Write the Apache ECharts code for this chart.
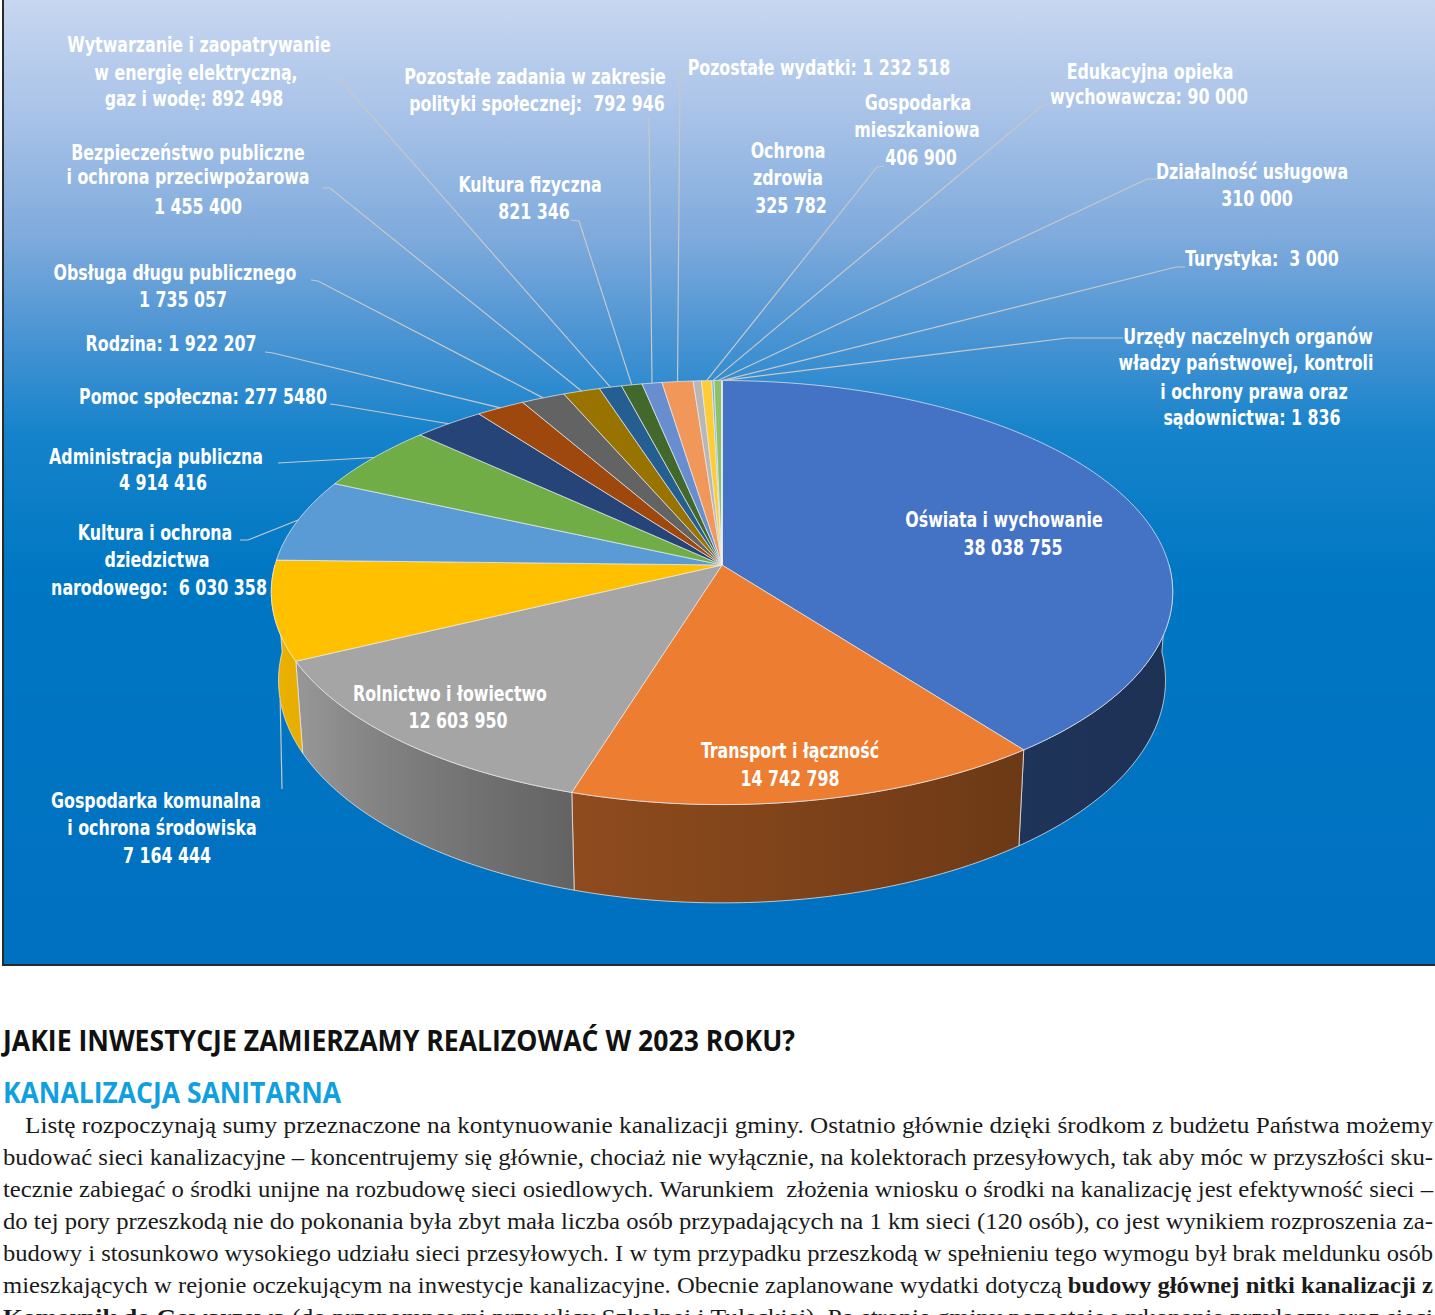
<!DOCTYPE html>
<html><head><meta charset="utf-8">
<script src="https://cdn.jsdelivr.net/npm/echarts@6/dist/echarts.min.js"></script>
<style>
html,body{margin:0;padding:0;width:1435px;height:1315px;overflow:hidden;background:#fff;}
#chart{position:absolute;left:0;top:0;width:1435px;height:970px;}
.ln{position:absolute;white-space:nowrap;transform-origin:0 0;}
.h{font-family:"Open Sans","Noto Sans",sans-serif;font-weight:700;font-size:29px;line-height:29px;}
.p{font-family:"Liberation Serif","Times New Roman",serif;font-size:24px;line-height:24px;color:#1a1a1a;}
</style></head>
<body>
<div id="chart"></div>
<div id="page"></div>
<script>
// ---------- data ----------
const categories = ['Oświata i wychowanie','Transport i łączność','Rolnictwo i łowiectwo','Gospodarka komunalna i ochrona środowiska','Kultura i ochrona dziedzictwa narodowego','Administracja publiczna','Pomoc społeczna','Rodzina','Obsługa długu publicznego','Bezpieczeństwo publiczne i ochrona przeciwpożarowa','Wytwarzanie i zaopatrywanie w energię elektryczną, gaz i wodę','Kultura fizyczna','Pozostałe zadania w zakresie polityki społecznej','Pozostałe wydatki','Ochrona zdrowia','Gospodarka mieszkaniowa','Edukacyjna opieka wychowawcza','Działalność usługowa','Turystyka','Urzędy naczelnych organów władzy państwowej, kontroli i ochrony prawa oraz sądownictwa'];
const values = [38038755,14742798,12603950,7164444,6030358,4914416,2775480,1922207,1735057,1455400,892498,821346,792946,1232518,325782,406900,90000,310000,3000,1836];
const labelLines = [
 ['Oświata i wychowanie','38 038 755'],
 ['Transport i łączność','14 742 798'],
 ['Rolnictwo i łowiectwo','12 603 950'],
 ['Gospodarka komunalna','i ochrona środowiska','7 164 444'],
 ['Kultura i ochrona','dziedzictwa','narodowego:  6 030 358'],
 ['Administracja publiczna','4 914 416'],
 ['Pomoc społeczna: 277 5480'],
 ['Rodzina: 1 922 207'],
 ['Obsługa długu publicznego','1 735 057'],
 ['Bezpieczeństwo publiczne','i ochrona przeciwpożarowa','1 455 400'],
 ['Wytwarzanie i zaopatrywanie','w energię elektryczną,','gaz i wodę: 892 498'],
 ['Kultura fizyczna','821 346'],
 ['Pozostałe zadania w zakresie','polityki społecznej:  792 946'],
 ['Pozostałe wydatki: 1 232 518'],
 ['Ochrona','zdrowia','325 782'],
 ['Gospodarka','mieszkaniowa','406 900'],
 ['Edukacyjna opieka','wychowawcza: 90 000'],
 ['Działalność usługowa','310 000'],
 ['Turystyka:  3 000'],
 ['Urzędy naczelnych organów','władzy państwowej, kontroli','i ochrony prawa oraz','sądownictwa: 1 836']
];

// ---------- layout / style ----------
const colors = ['#4472c4','#ed7d31','#a5a5a5','#ffc000','#5b9bd5','#70ad47','#264478','#9e480e','#636363','#997300','#255e91','#43682b','#698ed0','#f1975a','#b7b7b7','#ffcd33','#7cafdd','#8cc168','#335aa1','#d26012'];
const labelPos = [
 [[1004,520],[1013,548]],
 [[790,751],[790,779]],
 [[450,694],[458,721]],
 [[156,801],[162,828],[167,856]],
 [[155,533],[157,560],[159,588]],
 [[156,457],[163,483]],
 [[203,397]],
 [[171,344]],
 [[175,273],[183,300]],
 [[188,153],[188,177],[198,207]],
 [[199,45],[196,73],[194,99]],
 [[530,185],[534,212]],
 [[535,77],[537,104]],
 [[819,68]],
 [[788,151],[788,178],[791,206]],
 [[918,103],[917,130],[921,158]],
 [[1150,72],[1149,97]],
 [[1252,172],[1257,199]],
 [[1262,259]],
 [[1248,337],[1246,363],[1254,392],[1252,418]]
];
const leaderPts = [null,null,null,[[282,789]],[[240,540],[248,540]],[[278,463]],[[330,404],[338,405]],[[265,352],[273,353]],[[311,280],[318,281]],[[322,188],[330,188]],[[333,79],[340,80]],[[571,220],[579,221]],[[649,118]],[[690,73],[680,73]],null,[[884,166],[877,167]],[[1049,105],[1043,105]],[[1157,179],[1147,179]],[[1185,267],[1176,267]],[[1123,338],[1067,338]]];

const CX = 722, CY = 565, RX = 447, RY = 212, K = 0.13, DEPTH = 87, SLANT = 0.984;
const LABEL_FONT = '"DejaVu Sans Condensed","DejaVu Sans",sans-serif';
const LABEL_SCALE_X = 0.8;

function P(t, bottom) {
  const s = Math.sin(t), f = 1 + K * s;
  let x = CX + RX * Math.cos(t) * f, y = CY + RY * s * f;
  if (bottom) { x = CX + (x - CX) * SLANT; y += DEPTH * f; }
  return [x, y];
}
const total = values.reduce((a, b) => a + b, 0);
function angles(i) {
  let before = 0;
  for (let j = 0; j < i; j++) before += values[j];
  return [-Math.PI / 2 + 2 * Math.PI * before / total, -Math.PI / 2 + 2 * Math.PI * (before + values[i]) / total];
}
const shadeKeys = [[0,0.42],[50,0.45],[107,0.6],[150,0.9],[180,0.95]];
function shadeFactor(t) {
  const d = t * 180 / Math.PI;
  if (d <= shadeKeys[0][0]) return shadeKeys[0][1];
  for (let k = 1; k < shadeKeys.length; k++) {
    if (d <= shadeKeys[k][0]) {
      const [a0, v0] = shadeKeys[k - 1], [a1, v1] = shadeKeys[k];
      return v0 + (v1 - v0) * (d - a0) / (a1 - a0);
    }
  }
  return shadeKeys[shadeKeys.length - 1][1];
}
function shade(hex, f) {
  const n = parseInt(hex.slice(1), 16);
  const r = Math.round(((n >> 16) & 255) * f), g = Math.round(((n >> 8) & 255) * f), b = Math.round((n & 255) * f);
  return 'rgb(' + Math.min(255, r) + ',' + Math.min(255, g) + ',' + Math.min(255, b) + ')';
}

function renderWall(params, api) {
  const i = params.dataIndex;
  api.value(0);
  const [t0, t1] = angles(i);
  const a = Math.max(t0, 0), b = Math.min(t1, Math.PI);
  if (b <= a) return { type: 'group', children: [] };
  const n = Math.max(2, Math.ceil((b - a) / (Math.PI / 360)));
  const top = [], bot = [];
  for (let k = 0; k <= n; k++) {
    const t = a + (b - a) * k / n;
    top.push(P(t, false)); bot.push(P(t, true));
  }
  const pts = top.concat(bot.reverse());
  const x0 = P(a, false)[0], x1 = P(b, false)[0];
  const stops = [];
  const m = 10;
  for (let k = 0; k <= m; k++) {
    const t = a + (b - a) * k / m;
    let off = Math.abs(x1 - x0) < 0.5 ? k / m : (P(t, false)[0] - x0) / (x1 - x0);
    off = Math.max(0, Math.min(1, off));
    stops.push({ offset: off, color: shade(colors[i], shadeFactor(t)) });
  }
  stops.sort((p, q) => p.offset - q.offset);
  return {
    type: 'polygon',
    shape: { points: pts },
    style: { fill: new echarts.graphic.LinearGradient(x0, 0, x1 === x0 ? x0 + 1 : x1, 0, stops, true), stroke: 'rgba(235,235,235,0.75)', lineWidth: 1 }
  };
}

function renderTop(params, api) {
  const i = params.dataIndex;
  api.value(0);
  const [t0, t1] = angles(i);
  const n = Math.max(2, Math.ceil((t1 - t0) / (Math.PI / 360)));
  const pts = [[CX, CY]];
  for (let k = 0; k <= n; k++) pts.push(P(t0 + (t1 - t0) * k / n, false));
  return {
    type: 'polygon',
    shape: { points: pts },
    style: { fill: colors[i], stroke: 'rgba(240,240,240,0.7)', lineWidth: 1 }
  };
}

function renderLabel(params, api) {
  const i = params.dataIndex;
  api.value(0);
  const children = [];
  const lp = leaderPts[i];
  if (lp) {
    const [t0, t1] = angles(i);
    const mid = (t0 + t1) / 2;
    const end = P(mid, Math.sin(mid) > 0);
    children.push({ type: 'polyline', shape: { points: lp.concat([end]) }, style: { stroke: '#c8c8c8', lineWidth: 1.2, fill: null } });
  }
  labelLines[i].forEach((txt, k) => {
    const pos = labelPos[i][k];
    children.push({
      type: 'text',
      x: pos[0], y: pos[1], scaleX: LABEL_SCALE_X,
      style: { text: txt, x: 0, y: 0, fill: '#ffffff', fontFamily: LABEL_FONT, fontSize: 22, fontWeight: 'bold', align: 'center', verticalAlign: 'middle', textAlign: 'center', textVerticalAlign: 'middle' }
    });
  });
  return { type: 'group', children };
}

const seriesData = values.map((v, i) => ({ value: v, name: categories[i] }));
const chart = echarts.init(document.getElementById('chart'), null, { renderer: 'svg' });
chart.setOption({
  animation: false,
  graphic: [{
    type: 'rect', z: -10,
    shape: { x: 3, y: -3, width: 1445, height: 968 },
    style: {
      fill: new echarts.graphic.LinearGradient(0, 0, 0, 1, [
        { offset: 0, color: '#c8d7f0' }, { offset: 0.12, color: '#a9c3e8' }, { offset: 0.25, color: '#7eaadc' },
        { offset: 0.35, color: '#4a94d3' }, { offset: 0.45, color: '#1683cb' }, { offset: 0.6, color: '#0077c3' },
        { offset: 1, color: '#0070c0' }]),
      stroke: '#2a2a2a', lineWidth: 2
    }
  }],
  series: [
    { type: 'custom', name: 'side', coordinateSystem: 'none', data: seriesData, renderItem: renderWall, z: 5, silent: true },
    { type: 'custom', name: 'top', coordinateSystem: 'none', data: seriesData, renderItem: renderTop, z: 6 },
    { type: 'custom', name: 'labels', coordinateSystem: 'none', data: seriesData, renderItem: renderLabel, z: 7, silent: true }
  ]
});

// ---------- page text ----------
const pageLines = [
  { cls: 'h', color: '#111', html: 'JAKIE INWESTYCJE ZAMIERZAMY REALIZOWAĆ W 2023 ROKU?', left: 3, right: 795, cy: 1040 },
  { cls: 'h', color: '#10a0df', html: 'KANALIZACJA SANITARNA', left: 3, right: 341, cy: 1092 },
  { cls: 'p', html: 'Listę rozpoczynają sumy przeznaczone na kontynuowanie kanalizacji gminy. Ostatnio głównie dzięki środkom z budżetu Państwa możemy', left: 25, right: 1433, cy: 1126 },
  { cls: 'p', html: 'budować sieci kanalizacyjne – koncentrujemy się głównie, chociaż nie wyłącznie, na kolektorach przesyłowych, tak aby móc w przyszłości sku-', left: 3, right: 1433, cy: 1158 },
  { cls: 'p', html: 'tecznie zabiegać o środki unijne na rozbudowę sieci osiedlowych. Warunkiem&nbsp; złożenia wniosku o środki na kanalizację jest efektywność sieci –', left: 3, right: 1433, cy: 1190 },
  { cls: 'p', html: 'do tej pory przeszkodą nie do pokonania była zbyt mała liczba osób przypadających na 1 km sieci (120 osób), co jest wynikiem rozproszenia za-', left: 3, right: 1433, cy: 1222 },
  { cls: 'p', html: 'budowy i stosunkowo wysokiego udziału sieci przesyłowych. I w tym przypadku przeszkodą w spełnieniu tego wymogu był brak meldunku osób', left: 3, right: 1433, cy: 1254 },
  { cls: 'p', html: 'mieszkających w rejonie oczekującym na inwestycje kanalizacyjne. Obecnie zaplanowane wydatki dotyczą <b>budowy głównej nitki kanalizacji z</b>', left: 3, right: 1433, cy: 1286 },
  { cls: 'p', html: '<b>Komornik do Gowarzewa</b> (do przepompowni przy ulicy Szkolnej i Tuleckiej). Po stronie gminy pozostaje wykonanie przyłączy oraz sieci', left: 3, right: 1433, cy: 1318 }
];
const page = document.getElementById('page');
pageLines.forEach(L => {
  const d = document.createElement('div');
  d.className = 'ln ' + L.cls;
  d.innerHTML = L.html;
  if (L.color) d.style.color = L.color;
  d.style.left = L.left + 'px';
  const fs = L.cls === 'h' ? 29 : 24;
  d.style.top = (L.cy - (L.cls === 'h' ? 0.53 : 0.56) * fs) + 'px';
  page.appendChild(d);
  const w = d.getBoundingClientRect().width;
  d.style.transform = 'scaleX(' + ((L.right - L.left) / w) + ')';
});
</script>
</body></html>
